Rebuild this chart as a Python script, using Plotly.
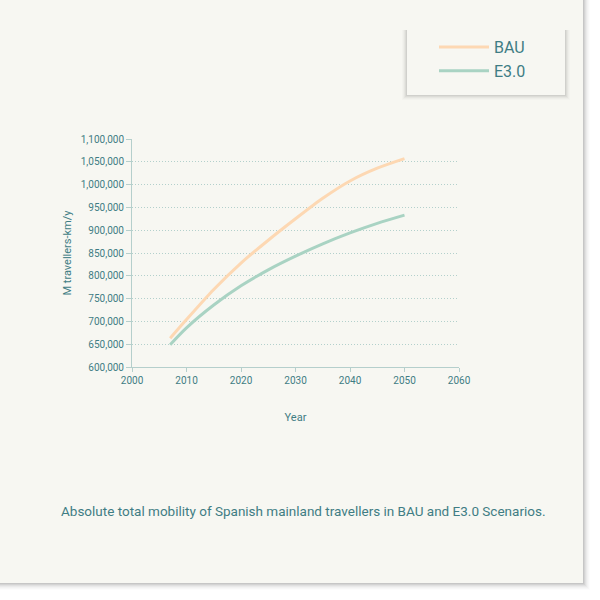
import plotly.graph_objects as go

years = [2007, 2010, 2015, 2020, 2025, 2030, 2035, 2040, 2045, 2050]
bau = [663000, 704000, 770000, 828000, 878000, 925000, 970000, 1008000, 1036000, 1057000]
e30 = [649000, 686000, 736000, 778000, 813000, 843000, 870000, 894000, 915000, 933000]
x_ticks = [2000, 2010, 2020, 2030, 2040, 2050, 2060]
y_ticks = list(range(600000, 1100001, 50000))
y_tick_labels = [f"{v:,}" for v in y_ticks]

TEXT = "#3f7d84"
CARD = "#f7f7f2"
FONT = "Roboto"

W, H = 600, 600
L, R, T, B = 132, 459, 139, 367


def px(xp):
    return (xp - L) / (R - L)


def py(yp):
    return (B - yp) / (B - T)


fig = go.Figure()
fig.add_trace(go.Scatter(x=years, y=bau, name="BAU", mode="lines",
                         line=dict(color="#fdd8b3", width=3, shape="spline", smoothing=0.8),
                         legendgroup="a"))
fig.add_trace(go.Scatter(x=years, y=e30, name="E3.0", mode="lines",
                         line=dict(color="#a9d3c3", width=3, shape="spline", smoothing=0.8),
                         legendgroup="b"))

shapes = []
# card shadow
for d, op in [(1, 0.06), (2, 0.05), (3, 0.04), (4, 0.03), (5, 0.02), (6, 0.02), (7, 0.01)]:
    shapes.append(dict(type="rect", xref="paper", yref="paper",
                       x0=px(-20), x1=px(583 + d), y0=py(-20), y1=py(583 + d),
                       fillcolor="black", opacity=op, line=dict(width=0), layer="below"))
shapes.append(dict(type="rect", xref="paper", yref="paper",
                   x0=px(-20), x1=px(583), y0=py(-20), y1=py(583),
                   fillcolor=CARD, line=dict(width=0), layer="below"))
# legend box shadow
for d, op in [(1, 0.05), (2, 0.04), (3, 0.03), (4, 0.02), (5, 0.015)]:
    shapes.append(dict(type="rect", xref="paper", yref="paper",
                       x0=px(407 - d), x1=px(565 + d), y0=py(30), y1=py(95 + d),
                       fillcolor="black", opacity=op, line=dict(width=0), layer="below"))
shapes.append(dict(type="rect", xref="paper", yref="paper",
                   x0=px(407), x1=px(565), y0=py(28), y1=py(95),
                   fillcolor=CARD, line=dict(width=0), layer="below"))

fig.update_layout(
    width=W, height=H,
    margin=dict(l=L, r=W - R, t=T, b=H - B),
    paper_bgcolor="white",
    plot_bgcolor="rgba(0,0,0,0)",
    font=dict(family=FONT, color=TEXT, size=10),
    shapes=shapes,
    showlegend=True,
    legend=dict(x=px(434), y=py(30), xanchor="left", yanchor="top",
                bgcolor="rgba(0,0,0,0)", font=dict(size=16, color=TEXT),
                tracegroupgap=0, itemwidth=50),
    xaxis=dict(range=[2000, 2060], tickvals=x_ticks, showgrid=False,
               showline=True, linecolor="#b5cfcc", linewidth=1,
               ticks="outside", ticklen=4, tickcolor="#b5cfcc",
               zeroline=False, tickfont=dict(size=10, color=TEXT),
               title=dict(text="Year", font=dict(size=11, color=TEXT), standoff=28)),
    yaxis=dict(range=[600000, 1100000], tickvals=y_ticks, ticktext=y_tick_labels,
               showgrid=True, gridcolor="#b3d0cc", griddash="1px,2px", gridwidth=1,
               showline=True, linecolor="#b5cfcc", linewidth=1,
               ticks="outside", ticklen=5, tickcolor="#b5cfcc",
               zeroline=False, tickfont=dict(size=10, color=TEXT),
               title=dict(text="M travellers-km/y", font=dict(size=11, color=TEXT), standoff=6)),
    annotations=[dict(text="Absolute total mobility of Spanish mainland travellers in BAU and E3.0 Scenarios.",
                      xref="paper", yref="paper", x=px(59), y=py(511), xanchor="left", yanchor="middle",
                      showarrow=False, font=dict(size=13.5, color=TEXT))],
)

fig.write_html("out.html", config={"displayModeBar": False},
               post_script="document.body.style.margin='0';")
